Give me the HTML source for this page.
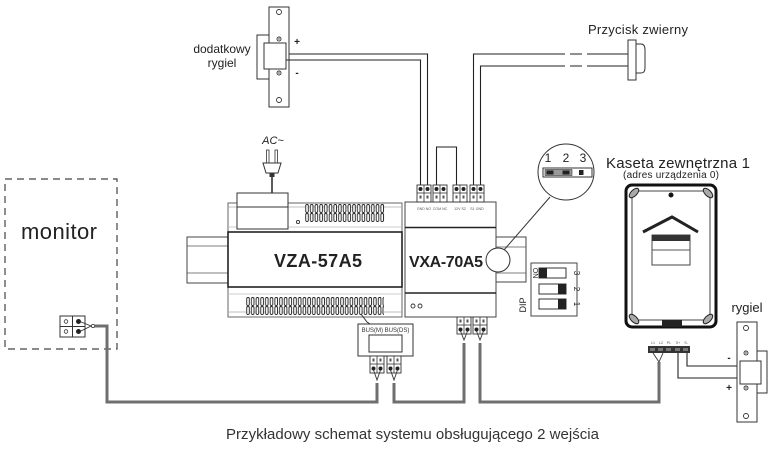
<!DOCTYPE html>
<html><head><meta charset="utf-8"><style>
html,body{margin:0;padding:0;background:#fff;}
svg{display:block;}
text{font-family:"Liberation Sans",sans-serif;}
</style></head><body>
<svg width="777" height="472" viewBox="0 0 777 472" xmlns="http://www.w3.org/2000/svg">
<defs>
<g id="tb">
<rect x="0" y="0" width="14" height="17" fill="#fff" stroke="#333" stroke-width="0.9"/>
<line x1="7" y1="0" x2="7" y2="17" stroke="#333" stroke-width="0.8"/>
<line x1="0" y1="8" x2="14" y2="8" stroke="#333" stroke-width="0.8"/>
<circle cx="3.5" cy="4" r="2" fill="#222"/><circle cx="10.5" cy="4" r="2" fill="#222"/>
<rect x="2.5" y="10.5" width="2" height="3" fill="#555"/><rect x="9.5" y="10.5" width="2" height="3" fill="#555"/>
</g>
<g id="tbi">
<rect x="0" y="0" width="14" height="17" fill="#fff" stroke="#333" stroke-width="0.9"/>
<line x1="7" y1="0" x2="7" y2="17" stroke="#333" stroke-width="0.8"/>
<line x1="0" y1="8" x2="14" y2="8" stroke="#333" stroke-width="0.8"/>
<rect x="2.5" y="2.5" width="2" height="3" fill="#555"/><rect x="9.5" y="2.5" width="2" height="3" fill="#555"/>
<circle cx="3.5" cy="12.5" r="2" fill="#222"/><circle cx="10.5" cy="12.5" r="2" fill="#222"/>
</g>
<pattern id="vt" x="305" y="204" width="4.7" height="19" patternUnits="userSpaceOnUse">
<rect x="0.7" y="0.5" width="2.6" height="8" rx="1.2" fill="#fff" stroke="#222" stroke-width="0.9"/>
<rect x="0.7" y="9.5" width="2.6" height="8" rx="1.2" fill="#fff" stroke="#222" stroke-width="0.9"/>
</pattern>
<pattern id="vb" x="246" y="297" width="4.7" height="19" patternUnits="userSpaceOnUse">
<rect x="0.7" y="0.5" width="2.6" height="8" rx="1.2" fill="#fff" stroke="#222" stroke-width="0.9"/>
<rect x="0.7" y="9.5" width="2.6" height="8" rx="1.2" fill="#fff" stroke="#222" stroke-width="0.9"/>
</pattern>
</defs>

<rect width="777" height="472" fill="#fff"/>

<!-- Monitor -->
<rect x="5" y="179" width="112" height="170" fill="none" stroke="#444" stroke-width="1.2" stroke-dasharray="7,5"/>
<text x="21" y="239" font-size="22" fill="#222" textLength="76">monitor</text>
<rect x="60" y="316" width="25" height="21" fill="#fff" stroke="#333" stroke-width="1"/>
<line x1="72.5" y1="316" x2="72.5" y2="337" stroke="#333"/>
<line x1="60" y1="326.5" x2="85" y2="326.5" stroke="#333"/>
<circle cx="66" cy="321.5" r="1.8" fill="none" stroke="#333" stroke-width="0.8"/>
<circle cx="66" cy="331.5" r="1.8" fill="none" stroke="#333" stroke-width="0.8"/>
<circle cx="78.5" cy="321.5" r="2.5" fill="#222"/>
<circle cx="78.5" cy="331.5" r="2.5" fill="#222"/>
<path d="M80,321.5 L91,326 L80,331.5" fill="none" stroke="#333" stroke-width="0.9"/>
<circle cx="93" cy="326" r="1.6" fill="#fff" stroke="#333" stroke-width="0.8"/>

<!-- Gray bus wires -->
<g fill="none" stroke="#6f6f6f" stroke-width="3" stroke-linejoin="miter">
<path d="M94.5,326 H107 V402 H377 V383"/>
<path d="M394,383 V402 H464 V343"/>
<path d="M480,343 V402 H659 V362"/>
</g>

<!-- Dodatkowy rygiel -->
<text x="222" y="53" font-size="12" fill="#222" text-anchor="middle">dodatkowy</text>
<text x="222" y="67" font-size="12" fill="#222" text-anchor="middle">rygiel</text>
<rect x="257" y="35" width="14" height="44" fill="#fff" stroke="#333" stroke-width="1"/>
<rect x="269" y="7" width="20" height="100" fill="#fff" stroke="#333" stroke-width="1"/>
<rect x="264" y="43" width="22" height="26" fill="#fff" stroke="#333" stroke-width="1"/>
<circle cx="279" cy="12" r="2.5" fill="none" stroke="#333" stroke-width="0.9"/>
<circle cx="279" cy="100" r="2.5" fill="none" stroke="#333" stroke-width="0.9"/>
<circle cx="279" cy="39" r="2" fill="none" stroke="#333" stroke-width="0.9"/><circle cx="279" cy="39" r="0.7" fill="#333"/>
<circle cx="279" cy="73" r="2" fill="none" stroke="#333" stroke-width="0.9"/><circle cx="279" cy="73" r="0.7" fill="#333"/>
<text x="297" y="45" font-size="10" font-weight="bold" fill="#222" text-anchor="middle">+</text>
<text x="297" y="76" font-size="10" font-weight="bold" fill="#222" text-anchor="middle">-</text>

<!-- thin black wires top -->
<g fill="none" stroke="#222" stroke-width="1.1">
<path d="M289,54 H427.5 V185"/>
<path d="M286,60 H420.5 V185"/>
<path d="M436.5,185 V147 H456.5 V185"/>
<path d="M473.5,185 V54 H553"/>
<path d="M480.5,185 V66 H553"/>
<path d="M592,54 H628"/>
<path d="M592,66 H628"/>
<path d="M553,54 H592" stroke-dasharray="12,5"/>
<path d="M553,66 H592" stroke-dasharray="12,5"/>
</g>

<!-- Przycisk -->
<text x="638" y="34" font-size="13" fill="#222" text-anchor="middle" textLength="100">Przycisk zwierny</text>
<path d="M636,44 H641 Q645,44 645,50 V68 Q645,73 641,73 H636 Z" fill="#fff" stroke="#333" stroke-width="1"/>
<rect x="628" y="40" width="8" height="40" fill="#fff" stroke="#333" stroke-width="1"/>

<!-- AC plug -->
<text x="273" y="144" font-size="11" font-style="italic" fill="#222" text-anchor="middle">AC~</text>
<rect x="266.5" y="150" width="2.5" height="13" fill="#fff" stroke="#333" stroke-width="0.8"/>
<rect x="275" y="150" width="2.5" height="13" fill="#fff" stroke="#333" stroke-width="0.8"/>
<path d="M263,163 H281 L278,173 H266 Z" fill="#fff" stroke="#333" stroke-width="1"/>
<rect x="269.5" y="173" width="5" height="4" fill="#333"/>
<line x1="272" y1="177" x2="272" y2="194" stroke="#333" stroke-width="1.6"/>

<!-- VZA DIN rail left -->
<rect x="187" y="237" width="41" height="46" fill="#fff" stroke="#444" stroke-width="1"/>
<line x1="187" y1="246" x2="228" y2="246" stroke="#555" stroke-width="0.8"/>
<line x1="187" y1="273" x2="228" y2="273" stroke="#555" stroke-width="0.8"/>

<!-- VZA module -->
<rect x="228" y="203" width="174" height="29" fill="#fff" stroke="#666" stroke-width="1"/>
<line x1="228" y1="207" x2="402" y2="207" stroke="#aaa" stroke-width="0.7"/>
<line x1="228" y1="227" x2="402" y2="227" stroke="#bbb" stroke-width="0.7"/>
<rect x="305" y="204" width="80" height="19" fill="url(#vt)"/>
<circle cx="298" cy="222" r="1.6" fill="none" stroke="#333" stroke-width="0.9"/>
<rect x="237" y="193" width="51" height="36" fill="#fff" stroke="#333" stroke-width="1"/>
<line x1="237" y1="207" x2="288" y2="207" stroke="#333" stroke-width="1"/>
<rect x="228" y="287" width="174" height="30" fill="#fff" stroke="#666" stroke-width="1"/>
<line x1="228" y1="294" x2="402" y2="294" stroke="#bbb" stroke-width="0.7"/>
<line x1="228" y1="312" x2="402" y2="312" stroke="#aaa" stroke-width="0.7"/>
<rect x="246" y="297" width="138" height="19" fill="url(#vb)"/>
<rect x="228" y="232" width="174" height="55" fill="#fff" stroke="#222" stroke-width="1.6"/>
<text x="318" y="267" font-size="18" font-weight="bold" fill="#222" text-anchor="middle" textLength="88">VZA-57A5</text>

<!-- VXA DIN rail right -->
<rect x="496" y="237" width="30" height="45" fill="#fff" stroke="#444" stroke-width="1"/>
<line x1="496" y1="247" x2="526" y2="247" stroke="#555" stroke-width="0.8"/>
<line x1="496" y1="273" x2="526" y2="273" stroke="#555" stroke-width="0.8"/>

<!-- VXA module -->
<rect x="405" y="202" width="91" height="115" fill="#fff" stroke="#444" stroke-width="1"/>
<line x1="405" y1="227.5" x2="496" y2="227.5" stroke="#222" stroke-width="1.6"/>
<line x1="405" y1="293" x2="496" y2="293" stroke="#222" stroke-width="1.6"/>
<text x="446" y="267" font-size="16" font-weight="bold" fill="#222" text-anchor="middle" textLength="74">VXA-70A5</text>
<circle cx="413" cy="306" r="2" fill="none" stroke="#333" stroke-width="0.9"/>
<circle cx="420" cy="306" r="2" fill="none" stroke="#333" stroke-width="0.9"/>
<g font-size="3.6" fill="#555" text-anchor="middle">
<text x="424" y="210">GND NO</text><text x="440" y="210">COM NC</text>
<text x="460" y="210">12V S2</text><text x="477" y="210">S1 GND</text>
</g>
<circle cx="498" cy="260" r="12" fill="#fff" stroke="#333" stroke-width="1"/>
<line x1="504" y1="250" x2="550" y2="197" stroke="#333" stroke-width="1"/>

<!-- top terminals -->
<use href="#tb" x="417" y="185"/>
<use href="#tb" x="433" y="185"/>
<use href="#tb" x="453" y="185"/>
<use href="#tb" x="470" y="185"/>

<!-- VXA bottom terminals -->
<use href="#tbi" x="457" y="317"/>
<use href="#tbi" x="473" y="317"/>
<g fill="none" stroke="#333" stroke-width="0.9">
<path d="M460.5,331 L464,340 L467.5,331"/>
<path d="M476.5,331 L480,340 L483.5,331"/>
</g>

<!-- BUS box -->
<path d="M361,314 L367,322 L370,324" fill="none" stroke="#333" stroke-width="1"/>
<rect x="358" y="324" width="55" height="32" fill="#fff" stroke="#333" stroke-width="1"/>
<text x="385.5" y="332" font-size="6" fill="#333" text-anchor="middle">BUS(M) BUS(DS)</text>
<rect x="369" y="335" width="33" height="17" fill="#fff" stroke="#333" stroke-width="1"/>
<use href="#tbi" x="370" y="356"/>
<use href="#tbi" x="387" y="356"/>
<g fill="none" stroke="#333" stroke-width="0.9">
<path d="M373.5,370 L377,380 L380.5,370"/>
<path d="M390.5,370 L394,380 L397.5,370"/>
</g>

<!-- Jumper magnifier -->
<circle cx="566" cy="172" r="28" fill="#fff" stroke="#333" stroke-width="1"/>
<g font-size="12" fill="#222" text-anchor="middle">
<text x="548" y="162">1</text><text x="566" y="162">2</text><text x="583" y="162">3</text>
</g>
<rect x="543" y="168" width="49" height="9" fill="#fff" stroke="#333" stroke-width="1"/>
<rect x="545" y="169.5" width="27" height="6" fill="#999" stroke="#333" stroke-width="0.6"/>
<rect x="546.5" y="170.5" width="7" height="4" fill="#222"/>
<rect x="562.5" y="170.5" width="7" height="4" fill="#222"/>
<rect x="579" y="170" width="4.5" height="5" fill="#222"/>

<!-- DIP -->
<rect x="531" y="263" width="46" height="53" fill="#fff" stroke="#444" stroke-width="1"/>
<rect x="539" y="268" width="27" height="10" fill="#fff" stroke="#333" stroke-width="1"/>
<rect x="539" y="268" width="8" height="10" fill="#222"/>
<rect x="539" y="284" width="27" height="10" fill="#fff" stroke="#333" stroke-width="1"/>
<rect x="558" y="284" width="8" height="10" fill="#222"/>
<rect x="539" y="299" width="27" height="10" fill="#fff" stroke="#333" stroke-width="1"/>
<rect x="558" y="299" width="8" height="10" fill="#222"/>
<g font-size="8" fill="#222" text-anchor="middle">
<text transform="translate(574,273) rotate(90)">3</text>
<text transform="translate(574,289) rotate(90)">2</text>
<text transform="translate(574,304) rotate(90)">1</text>
<text transform="translate(533,273) rotate(90)" font-size="7">ON</text>
</g>
<text transform="translate(526,305) rotate(-90)" font-size="9" fill="#222" text-anchor="middle">DIP</text>

<!-- Kaseta -->
<text x="678" y="168" font-size="15" fill="#222" text-anchor="middle" textLength="144">Kaseta zewnętrzna 1</text>
<text x="671" y="178" font-size="10" fill="#222" text-anchor="middle" textLength="96">(adres urządzenia 0)</text>
<rect x="626" y="185" width="90" height="142" rx="6" fill="#fff" stroke="#111" stroke-width="3"/>
<path d="M638,191 H704 L710,197 V314 L704,320 H638 L632,314 V197 Z" fill="none" stroke="#444" stroke-width="1"/>
<g fill="#aaa" stroke="#222" stroke-width="1">
<ellipse cx="634" cy="193" rx="6" ry="3" transform="rotate(-45 634 193)"/>
<ellipse cx="708" cy="193" rx="6" ry="3" transform="rotate(45 708 193)"/>
<ellipse cx="634" cy="319" rx="6" ry="3" transform="rotate(45 634 319)"/>
<ellipse cx="708" cy="319" rx="6" ry="3" transform="rotate(-45 708 319)"/>
</g>
<circle cx="671" cy="195" r="2.5" fill="#111"/>
<path d="M643,232 L672,217 L698,232" fill="none" stroke="#222" stroke-width="3"/>
<rect x="652" y="235" width="38" height="30" fill="#fff" stroke="#444" stroke-width="1"/>
<rect x="652" y="235" width="38" height="6" fill="#333"/>
<line x1="652" y1="250" x2="690" y2="250" stroke="#555" stroke-width="1"/>
<rect x="662" y="320" width="20" height="7" fill="#222"/>

<!-- Kaseta terminal -->
<g font-size="3.6" fill="#555" text-anchor="middle">
<text x="653" y="344">L1</text><text x="661" y="344">L2</text><text x="669" y="344">PL</text><text x="678" y="344">S+</text><text x="686" y="344">S-</text>
</g>
<rect x="648" y="346" width="42" height="7" fill="#333"/>
<g fill="#777"><rect x="650" y="348" width="5" height="3"/><rect x="658" y="348" width="5" height="3"/><rect x="666" y="348" width="5" height="3"/><rect x="675" y="348" width="5" height="3"/><rect x="683" y="348" width="5" height="3"/></g>
<path d="M653,353 L659,362 L663,353" fill="none" stroke="#333" stroke-width="0.9"/>
<g fill="none" stroke="#222" stroke-width="1.1">
<path d="M687,353 V366 H740"/>
<path d="M678,353 V378 H740"/>
</g>

<!-- rygiel right -->
<text x="747" y="312" font-size="13" fill="#222" text-anchor="middle">rygiel</text>
<rect x="752" y="351" width="15" height="42" fill="#fff" stroke="#333" stroke-width="1"/>
<rect x="737" y="322" width="20" height="100" fill="#fff" stroke="#333" stroke-width="1"/>
<rect x="740" y="361" width="21" height="23" fill="#fff" stroke="#333" stroke-width="1"/>
<circle cx="746" cy="328" r="2.5" fill="none" stroke="#333" stroke-width="0.9"/>
<circle cx="746" cy="416" r="2.5" fill="none" stroke="#333" stroke-width="0.9"/>
<circle cx="746" cy="353" r="2" fill="none" stroke="#333" stroke-width="0.9"/><circle cx="746" cy="353" r="0.7" fill="#333"/>
<circle cx="746" cy="388" r="2" fill="none" stroke="#333" stroke-width="0.9"/><circle cx="746" cy="388" r="0.7" fill="#333"/>
<text x="729" y="361" font-size="10" font-weight="bold" fill="#222" text-anchor="middle">-</text>
<text x="729" y="391" font-size="10" font-weight="bold" fill="#222" text-anchor="middle">+</text>

<!-- Caption -->
<text x="412.5" y="439" font-size="15" fill="#333" text-anchor="middle" textLength="373">Przykładowy schemat systemu obsługującego 2 wejścia</text>
</svg>
</body></html>
